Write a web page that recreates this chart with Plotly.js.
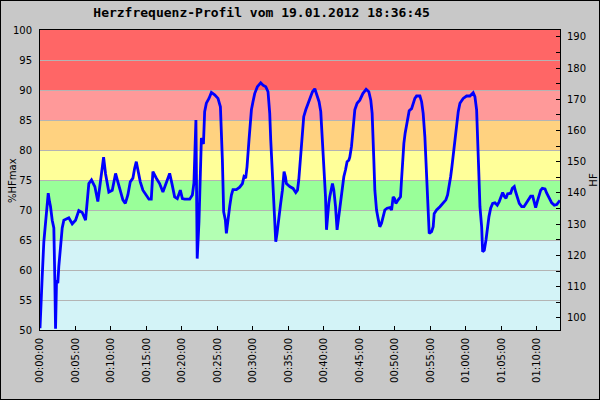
<!DOCTYPE html>
<html>
<head>
<meta charset="utf-8">
<script src="https://cdn.plot.ly/plotly-3.0.1.min.js"></script>
<style>
html,body{margin:0;padding:0;background:#c8c8c8;}
#wrap{position:relative;width:600px;height:400px;}
#chart{width:600px;height:400px;}
#frame{position:absolute;left:0;top:0;width:598px;height:398px;border:1px solid #000;pointer-events:none;}
</style>
</head>
<body>
<div id="wrap"><div id="chart"></div><div id="frame"></div></div>
<script>
// elapsed time in minutes
const timeMin = [0.0,0.14,0.31,0.54,0.78,0.92,1.16,1.34,1.48,1.72,1.95,2.09,2.19,2.33,2.51,2.65,2.89,3.13,3.36,3.84,4.06,4.54,5.01,5.47,5.95,6.42,6.66,6.88,7.26,7.73,8.15,8.53,8.77,8.96,9.24,9.70,10.18,10.65,10.97,11.31,11.68,12.02,12.38,12.72,13.09,13.33,13.57,13.79,14.13,14.50,14.98,15.35,15.68,15.91,16.39,16.85,17.32,17.70,18.03,18.27,18.59,18.97,19.35,19.77,20.06,20.38,21.09,21.47,21.69,21.97,22.15,22.40,22.74,23.03,23.20,23.44,23.81,24.15,24.61,25.08,25.42,25.56,25.70,25.88,26.12,26.26,26.49,26.73,26.97,27.19,27.67,28.14,28.52,28.74,28.98,29.17,29.45,29.65,29.79,30.01,30.25,30.63,31.10,31.42,31.81,32.13,32.27,32.37,32.51,32.69,32.93,33.07,33.22,33.40,33.64,33.88,34.16,34.39,34.58,34.72,35.19,35.66,36.04,36.28,36.46,36.60,36.84,36.98,37.16,37.45,37.77,38.11,38.39,38.72,39.04,39.32,39.56,39.75,39.89,40.03,40.23,40.37,40.51,40.69,40.83,41.07,41.21,41.40,41.64,41.86,42.10,42.34,42.57,42.81,43.05,43.27,43.51,43.65,43.89,44.12,44.36,44.68,45.06,45.49,45.95,46.33,46.61,46.80,46.94,47.04,47.18,47.42,47.64,47.88,48.12,48.35,48.59,48.91,49.30,49.54,49.76,49.96,50.14,50.47,50.80,50.94,51.09,51.27,51.45,51.73,52.02,52.36,52.58,52.82,53.06,53.53,53.77,53.99,54.23,54.37,54.56,54.70,54.84,55.18,55.40,55.54,55.88,56.35,56.81,57.19,57.43,57.66,57.86,58.04,58.22,58.46,58.70,58.93,59.17,59.63,60.11,60.58,61.04,61.28,61.52,61.66,61.85,61.99,62.23,62.37,62.60,62.84,63.02,63.26,63.50,63.78,64.10,64.43,64.71,64.95,65.19,65.42,65.66,65.90,66.32,66.55,66.83,67.03,67.25,67.53,67.87,68.19,68.48,68.80,69.14,69.42,69.61,69.84,70.07,70.35,70.55,70.78,71.16,71.40,71.72,72.10,72.47,72.81,73.13,73.27];
// heart rate in % of HFmax
const pctHFmax = [50.3,55,58.9,64.7,67.8,70,72.8,71.4,70.6,68.3,67,58.3,50.2,58.3,57.8,60.6,64.4,67,68.3,68.6,68.7,67.7,68.3,69.9,69.6,68.3,71.4,74.4,75,73.9,71.4,74.5,76.4,78.8,76,73,73.3,76.1,74.7,73.3,71.7,71.1,72.5,74.7,75.3,76.9,78.05,76.7,74.7,73.3,72.5,71.8,71.8,76.4,75.3,74.4,73,74.4,75.55,76.1,74.4,72.2,71.9,73.3,71.9,71.8,71.8,72.5,74.5,85,61.9,68,82,81,86.4,87.8,88.6,89.6,89.2,88.6,87.2,83.9,78.3,69.7,68.3,66.1,68.9,70.6,72.5,73.4,73.4,73.8,74.4,75.55,75.3,77.2,81.7,85,86.7,88.05,89.4,90.55,91.2,90.8,90.55,89.7,87.8,86.1,81.7,76.7,71.1,66.7,64.7,66.1,68.9,70.8,73.3,76.4,75.55,74.4,73.9,73.6,72.9,73.3,75,77.2,80,82.8,85.55,86.7,87.8,88.9,89.7,90.2,89.2,88.05,86.4,82.8,78.9,75.55,72.2,66.7,68.9,71.1,72.2,73.6,74.4,73.3,70.6,66.7,68.9,71.1,73.3,75.55,76.7,78.05,78.3,78.8,80.6,83.9,86.7,87.8,88.3,89.4,90.1,89.7,88.3,86.1,82.8,78.3,73.3,70,68.6,67.2,67.8,68.9,70,70.3,70.4,70,72.2,71.9,71.1,71.7,72.2,75,78.9,81.1,82.8,85,86.55,86.9,87.8,88.6,89,89,88.05,86.1,82.2,78.3,74.4,68.9,66.1,66.4,67.2,69.4,70,70.55,71.1,71.7,72.5,73.9,75.55,77.2,79.2,82.2,84.4,86.4,87.8,88.6,89,89,89.55,88.9,86.7,82.8,75.55,70.55,67.2,63.05,63.3,65,67.2,68.9,70.3,71.1,71.2,70.8,71.4,72.2,72.9,72.3,71.95,72.7,72.8,73.6,73.9,73,71.95,71.1,70.55,70.55,71.1,71.8,72.3,72.3,71.4,70.4,71.4,72.5,73.3,73.6,73.5,72.8,71.95,71.2,70.8,70.9,71.4,71.6];

const tickMinutes = [0,5,10,15,20,25,30,35,40,45,50,55,60,65,70];
const tickLabels = ["00:00:00","00:05:00","00:10:00","00:15:00","00:20:00","00:25:00","00:30:00","00:35:00","00:40:00","00:45:00","00:50:00","00:55:00","01:00:00","01:05:00","01:10:00"];

// heart-rate zones (% HFmax) and their colours
const zoneBounds = [50,65,70,75,80,85,90,100];
const zoneColors = ["#d3f3f7","#b3ffb3","#99ff99","#ffff99","#ffd280","#ff9999","#ff6666"];

const hfMax = 192.2;
const pctRange = [50,100];

const shapes = [];
for (let i = 0; i < zoneColors.length; i++) {
  shapes.push({type:'rect', xref:'paper', yref:'y', x0:0, x1:1, y0:zoneBounds[i], y1:zoneBounds[i+1],
    fillcolor:zoneColors[i], line:{width:0}, layer:'below'});
}

const tickFont = {family:'DejaVu Sans, sans-serif', size:10, color:'#000'};

const data = [
  {x: timeMin, y: pctHFmax, type:'scatter', mode:'lines', line:{color:'#0000ff', width:2.8}, hoverinfo:'skip'},
  {x: [timeMin[0]], y: [hfMax*0.75], yaxis:'y2', type:'scatter', mode:'markers', marker:{opacity:0}, hoverinfo:'skip'}
];

const layout = {
  width:600, height:400,
  paper_bgcolor:'#c8c8c8', plot_bgcolor:'#d3f3f7',
  margin:{l:40, r:40, t:30, b:70},
  showlegend:false,
  title:{text:'Herzfrequenz-Profil vom 19.01.2012 18:36:45', x:0.436, xanchor:'center', y:0.968, yanchor:'middle',
    font:{family:'DejaVu Sans Mono, monospace', size:13, color:'#000', weight:'bold'}},
  xaxis:{range:[0, 73.27], tickmode:'array', tickvals:tickMinutes, ticktext:tickLabels, tickangle:-90,
    ticks:'inside', ticklen:4, tickcolor:'#000', showgrid:false, zeroline:false,
    showline:true, linecolor:'#000', linewidth:1, mirror:true, tickfont:tickFont, ticklabelstandoff:3},
  yaxis:{range:pctRange, dtick:5, tick0:50, ticks:'', showgrid:true, gridcolor:'#b4b4b4', gridwidth:1,
    zeroline:false, showline:true, linecolor:'#000', linewidth:1, mirror:true, tickfont:tickFont,
    ticklabelstandoff:5},
  yaxis2:{overlaying:'y', side:'right', range:[hfMax*0.5, hfMax], dtick:10, tick0:100,
    ticks:'inside', ticklen:4, tickcolor:'#000', showgrid:false, zeroline:false, showline:false,
    minor:{dtick:5, tick0:100, ticks:'inside', ticklen:4, tickcolor:'#000', showgrid:false},
    tickfont:tickFont, ticklabelstandoff:6,
    title:{text:'HF', font:{family:'DejaVu Sans, sans-serif', size:10, color:'#000'}, standoff:4}},
  annotations:[{text:'%HFmax', xref:'paper', yref:'paper', x:-0.054, y:0.5, xanchor:'center', yanchor:'middle',
    textangle:-90, showarrow:false, font:{family:'DejaVu Sans, sans-serif', size:10, color:'#000'}}],
  shapes: shapes
};

Plotly.newPlot('chart', data, layout, {staticPlot:true, displayModeBar:false});
</script>
</body>
</html>
